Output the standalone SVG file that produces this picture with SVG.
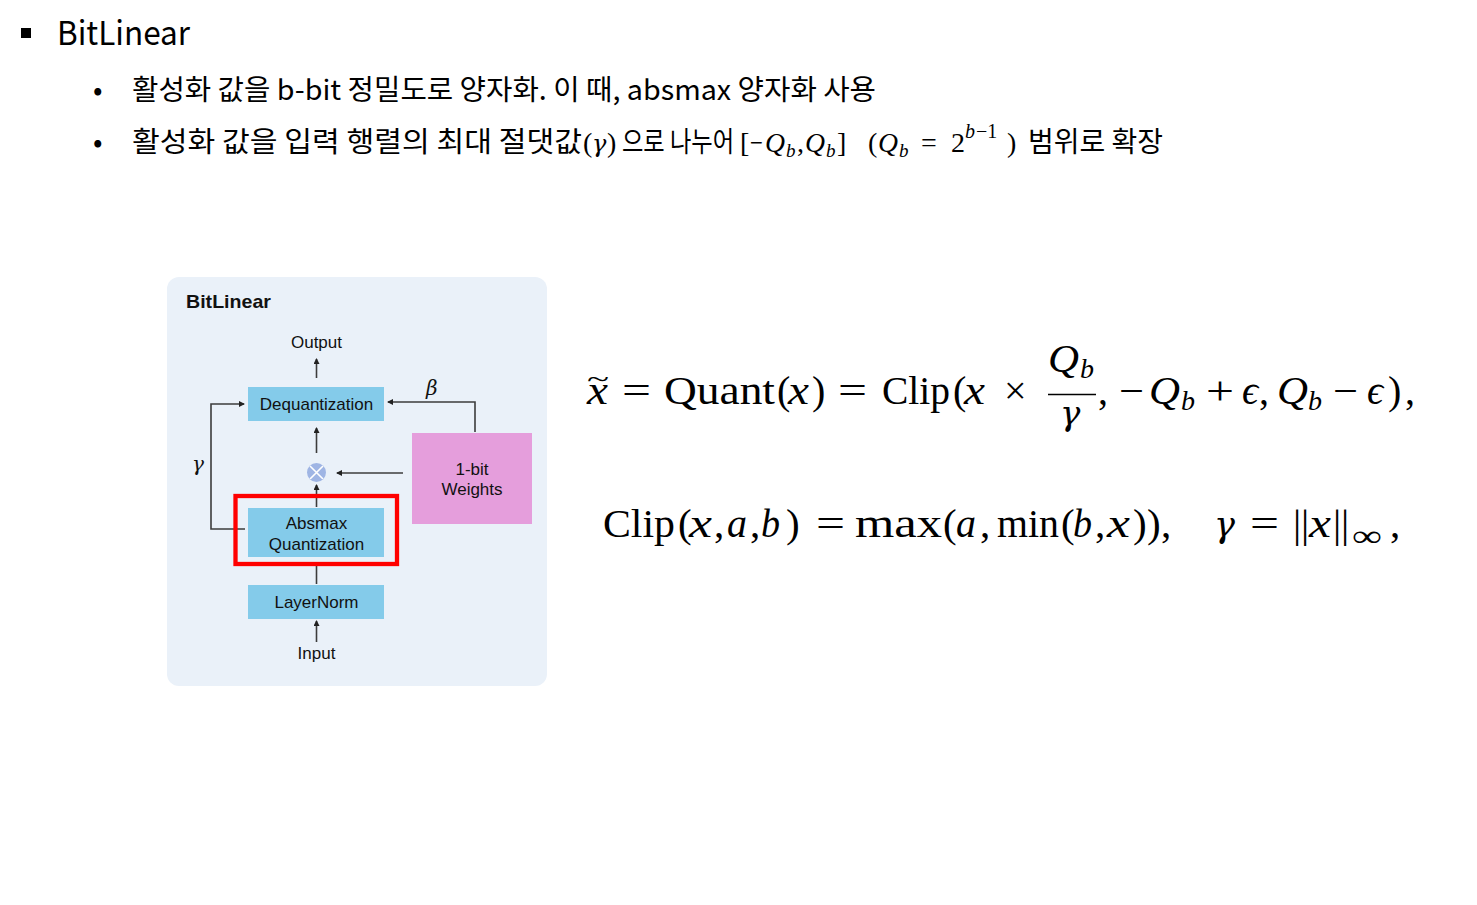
<svg xmlns="http://www.w3.org/2000/svg" width="1477" height="905" viewBox="0 0 1477 905">
<defs>
<style>
.kr{font-family:"Noto Sans CJK KR","Noto Sans",sans-serif;fill:#000}
.m{font-family:"Liberation Serif","DejaVu Serif",serif;fill:#000}
.i{font-style:italic}
.g{font-family:"DejaVu Serif",serif;font-style:italic}
.lbl{font-family:"Liberation Sans",Arial,sans-serif;font-size:17px;fill:#111;text-anchor:middle}
.box{fill:#84cbea}
.ln{fill:none;stroke:#3c3c3c;stroke-width:1.6}
</style>
<marker id="ah" viewBox="0 0 6 6" refX="5" refY="3" markerWidth="6" markerHeight="6" markerUnits="userSpaceOnUse" orient="auto">
<path d="M0,0 L6,3 L0,6 z" fill="#222"/>
</marker>
</defs>
<rect width="1477" height="905" fill="#fff"/>

<g id="header">
<rect x="21" y="28" width="10" height="10" fill="#000"/>
<text class="kr" x="57" y="45" font-size="33" textLength="133" lengthAdjust="spacingAndGlyphs">BitLinear</text>
<text class="kr" x="93" y="100" font-size="28">•</text>
<text class="kr" x="132" y="100" font-size="28" textLength="744" lengthAdjust="spacingAndGlyphs">활성화 값을 b-bit 정밀도로 양자화. 이 때, absmax 양자화 사용</text>
<text class="kr" x="93" y="152" font-size="28">•</text>
<text class="kr" x="132" y="152" font-size="28" textLength="450" lengthAdjust="spacingAndGlyphs">활성화 값을 입력 행렬의 최대 절댓값</text>
<text class="m" y="152" font-size="28"><tspan x="583">(</tspan><tspan x="592" class="g" font-size="24">γ</tspan><tspan x="607">)</tspan></text>
<text class="kr" x="622" y="152" font-size="28" textLength="112" lengthAdjust="spacingAndGlyphs">으로 나누어</text>
<text class="m" y="152" font-size="28"><tspan x="740">[</tspan><tspan x="750" textLength="13" lengthAdjust="spacingAndGlyphs">−</tspan><tspan x="765" class="i" textLength="20" lengthAdjust="spacingAndGlyphs">Q</tspan><tspan x="786" y="157" font-size="19" class="i">b</tspan><tspan x="797" y="152">,</tspan><tspan x="805" class="i" textLength="20" lengthAdjust="spacingAndGlyphs">Q</tspan><tspan x="826" y="157" font-size="19" class="i">b</tspan><tspan x="837" y="152">]</tspan><tspan x="868">(</tspan><tspan x="878" class="i" textLength="20" lengthAdjust="spacingAndGlyphs">Q</tspan><tspan x="899" y="157" font-size="19" class="i">b</tspan><tspan x="921" y="152">=</tspan><tspan x="951">2</tspan><tspan x="965" y="138" font-size="20" class="i">b</tspan><tspan x="976" y="138" font-size="20">−1</tspan><tspan x="1007" y="152">)</tspan></text>
<text class="kr" x="1028" y="152" font-size="28" textLength="135" lengthAdjust="spacingAndGlyphs">범위로 확장</text>
</g>

<g id="panel">
<rect x="167" y="277" width="380" height="409" rx="12" fill="#eaf1f9"/>
<text x="186" y="308" font-family="Liberation Sans,Arial,sans-serif" font-size="19" font-weight="bold" fill="#111" textLength="85" lengthAdjust="spacingAndGlyphs">BitLinear</text>
</g>

<g id="connectors">
<line class="ln" x1="316.5" y1="378" x2="316.5" y2="359" marker-end="url(#ah)"/>
<line class="ln" x1="316.5" y1="453" x2="316.5" y2="428" marker-end="url(#ah)"/>
<line class="ln" x1="316.5" y1="507" x2="316.5" y2="485" marker-end="url(#ah)"/>
<line class="ln" x1="316.5" y1="566" x2="316.5" y2="584"/>
<line class="ln" x1="316.5" y1="642" x2="316.5" y2="621" marker-end="url(#ah)"/>
<path class="ln" d="M245,529 H211 V404 H244" marker-end="url(#ah)"/>
<path class="ln" d="M475,432 V402 H388" marker-end="url(#ah)"/>
<line class="ln" x1="403" y1="473" x2="337" y2="473" marker-end="url(#ah)"/>
<text x="192" y="471" class="g" font-size="20" fill="#111">γ</text>
<text x="426" y="395" class="g" font-size="20" fill="#111">β</text>
</g>

<g id="output"><text class="lbl" x="316.5" y="348">Output</text></g>
<g id="dequantization">
<rect class="box" x="248" y="387" width="136" height="34"/>
<text class="lbl" x="316.5" y="410">Dequantization</text>
</g>
<g id="multiply">
<circle cx="316.5" cy="472.5" r="9.5" fill="#9fb5e4"/>
<path d="M310,466 L323,479 M323,466 L310,479" stroke="#fff" stroke-width="1.6"/>
</g>
<g id="absmax">
<rect class="box" x="248" y="508" width="136" height="49"/>
<text class="lbl" x="316.5" y="529">Absmax</text>
<text class="lbl" x="316.5" y="550">Quantization</text>
<rect x="235.5" y="496" width="161.5" height="68" fill="none" stroke="#ff0000" stroke-width="4.3"/>
</g>
<g id="layernorm">
<rect class="box" x="248" y="585" width="136" height="34"/>
<text class="lbl" x="316.5" y="608">LayerNorm</text>
</g>
<g id="input"><text class="lbl" x="316.5" y="659">Input</text></g>
<g id="weights">
<rect x="412" y="433" width="120" height="91" fill="#e59edc"/>
<text class="lbl" x="472" y="475">1-bit</text>
<text class="lbl" x="472" y="495">Weights</text>
</g>

<g id="formula1" class="m">
<text x="587" y="388" font-size="28" textLength="22" lengthAdjust="spacingAndGlyphs">~</text>
<text y="404" font-size="40"><tspan x="587" class="i" textLength="21" lengthAdjust="spacingAndGlyphs">x</tspan><tspan x="622" textLength="29" lengthAdjust="spacingAndGlyphs">=</tspan><tspan x="664" textLength="111" lengthAdjust="spacingAndGlyphs">Quant</tspan><tspan x="777">(</tspan><tspan x="788" class="i" textLength="21" lengthAdjust="spacingAndGlyphs">x</tspan><tspan x="812">)</tspan><tspan x="838" textLength="29" lengthAdjust="spacingAndGlyphs">=</tspan><tspan x="882" textLength="68" lengthAdjust="spacingAndGlyphs">Clip</tspan><tspan x="953">(</tspan><tspan x="964" class="i" textLength="21" lengthAdjust="spacingAndGlyphs">x</tspan><tspan x="1004">×</tspan></text>
<text x="1048" y="372" font-size="40" class="i" textLength="31" lengthAdjust="spacingAndGlyphs">Q</text>
<text x="1080" y="378" font-size="28" class="i">b</text>
<line x1="1048" y1="394.5" x2="1096" y2="394.5" stroke="#000" stroke-width="1.6"/>
<text x="1060" y="425" font-size="34" class="g">γ</text>
<text y="404" font-size="40"><tspan x="1098">,</tspan><tspan x="1119" textLength="25" lengthAdjust="spacingAndGlyphs">−</tspan><tspan x="1149" class="i" textLength="31" lengthAdjust="spacingAndGlyphs">Q</tspan><tspan x="1181" y="410" font-size="28" class="i">b</tspan><tspan x="1206" y="404" textLength="28" lengthAdjust="spacingAndGlyphs">+</tspan><tspan x="1242" class="i">ϵ</tspan><tspan x="1259">,</tspan><tspan x="1277" class="i" textLength="31" lengthAdjust="spacingAndGlyphs">Q</tspan><tspan x="1308" y="410" font-size="28" class="i">b</tspan><tspan x="1333" y="404" textLength="25" lengthAdjust="spacingAndGlyphs">−</tspan><tspan x="1367" class="i">ϵ</tspan><tspan x="1388">)</tspan><tspan x="1405">,</tspan></text>
</g>

<g id="formula2" class="m">
<text y="537" font-size="41"><tspan x="603" textLength="72" lengthAdjust="spacingAndGlyphs">Clip</tspan><tspan x="678">(</tspan><tspan x="689" class="i" textLength="23" lengthAdjust="spacingAndGlyphs">x</tspan><tspan x="714">,</tspan><tspan x="727" class="i" textLength="20" lengthAdjust="spacingAndGlyphs">a</tspan><tspan x="750">,</tspan><tspan x="761" class="i" textLength="19" lengthAdjust="spacingAndGlyphs">b</tspan><tspan x="786">)</tspan><tspan x="816" textLength="29" lengthAdjust="spacingAndGlyphs">=</tspan><tspan x="855" textLength="87" lengthAdjust="spacingAndGlyphs">max</tspan><tspan x="943">(</tspan><tspan x="956" class="i" textLength="20" lengthAdjust="spacingAndGlyphs">a</tspan><tspan x="980">,</tspan><tspan x="997" textLength="62" lengthAdjust="spacingAndGlyphs">min</tspan><tspan x="1061">(</tspan><tspan x="1073" class="i" textLength="19" lengthAdjust="spacingAndGlyphs">b</tspan><tspan x="1095">,</tspan><tspan x="1107" class="i" textLength="23" lengthAdjust="spacingAndGlyphs">x</tspan><tspan x="1133">)</tspan><tspan x="1147">)</tspan><tspan x="1161">,</tspan><tspan x="1250" textLength="29" lengthAdjust="spacingAndGlyphs">=</tspan><tspan x="1293">|</tspan><tspan x="1301">|</tspan><tspan x="1309" class="i" textLength="22" lengthAdjust="spacingAndGlyphs">x</tspan><tspan x="1333">|</tspan><tspan x="1341">|</tspan><tspan x="1352" y="546" font-size="30" textLength="30" lengthAdjust="spacingAndGlyphs">∞</tspan><tspan x="1390" y="537">,</tspan></text>
<text x="1214" y="537" font-size="35" class="g">γ</text>
</g>
</svg>
